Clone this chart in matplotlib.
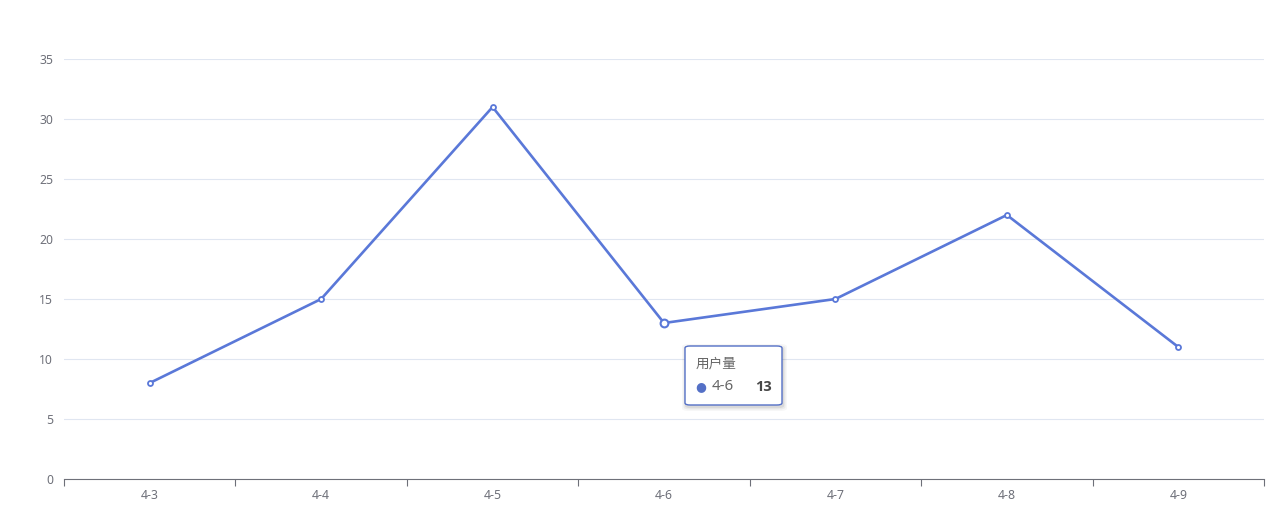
import matplotlib.pyplot as plt
from matplotlib.patches import FancyBboxPatch

plt.rcParams['font.family'] = ['Noto Sans', 'Noto Sans CJK SC', 'DejaVu Sans']

# datos
dias = ['4-3', '4-4', '4-5', '4-6', '4-7', '4-8', '4-9']
usuarios = [8, 15, 31, 13, 15, 22, 11]
serie = '用户量'
idx_tip = 3

W, H = 1274, 520
fig = plt.figure(figsize=(W / 100, H / 100), dpi=100)
ax = fig.add_axes([64 / W, (H - 479) / H, 1200 / W, 420 / H])

x = list(range(len(dias)))
color = '#5470c6'
linea = '#5a78d8'
ax.plot(x, usuarios, color=linea, lw=1.9, marker='o', ms=3.6,
        mfc='white', mec=linea, mew=1.3, zorder=3)
# punto resaltado
ax.plot(x[idx_tip], usuarios[idx_tip], marker='o', ms=5.6, mfc='white',
        mec=linea, mew=1.5, zorder=4, ls='none')

ax.set_xlim(-0.5, len(dias) - 0.5)
ax.set_ylim(0, 35)
ax.set_yticks(range(0, 36, 5))
ax.set_xticks(x)
ax.set_xticklabels(dias)
ax.set_xticks([i - 0.5 for i in range(len(dias) + 1)], minor=True)
ax.tick_params(axis='x', which='major', length=0, pad=7, labelsize=8.8, labelcolor='#6e7079')
ax.tick_params(axis='x', which='minor', length=5, width=0.8, color='#6e7079', direction='out')
ax.tick_params(axis='y', length=0, pad=8, labelsize=8.8, labelcolor='#6e7079')

ax.grid(axis='y', color='#e0e6f1', lw=0.8)
ax.set_axisbelow(True)
for s in ['top', 'right', 'left']:
    ax.spines[s].set_visible(False)
ax.spines['bottom'].set_color('#6e7079')
ax.spines['bottom'].set_linewidth(0.8)

# tooltip
def px(xp, yp):
    return xp / W, (H - yp) / H

bx0, by0, bx1, by1 = 685, 346, 782, 405
for d, a in [(4, 0.03), (2.5, 0.05), (1.2, 0.07)]:
    sh = FancyBboxPatch(px(bx0 - d + 1, by1 + d + 2), (bx1 - bx0 + 2 * d) / W, (by1 - by0 + 2 * d) / H,
                        boxstyle='round,pad=0,rounding_size=0.005', transform=fig.transFigure,
                        fc='#000000', ec='none', alpha=a, zorder=9)
    fig.add_artist(sh)
box = FancyBboxPatch(px(bx0, by1), (bx1 - bx0) / W, (by1 - by0) / H,
                     boxstyle='round,pad=0,rounding_size=0.004', transform=fig.transFigure,
                     fc='white', ec=color, lw=1.0, zorder=10)
fig.add_artist(box)
fig.text(*px(696, 364), serie, fontsize=9.8, color='#666666', va='center', ha='left', zorder=11)
fig.text(*px(701, 387), '\u25cf', fontsize=9, color=color, va='center', ha='center',
         family='DejaVu Sans', zorder=11)
fig.text(*px(712, 387), dias[idx_tip], fontsize=10.8, color='#666666', va='center', ha='left', zorder=11)
fig.text(*px(772, 387), str(usuarios[idx_tip]), fontsize=10.5, color='#464646', fontweight='bold',
         family='Open Sans', va='center', ha='right', zorder=11)

fig.savefig('out.png', dpi=100)
